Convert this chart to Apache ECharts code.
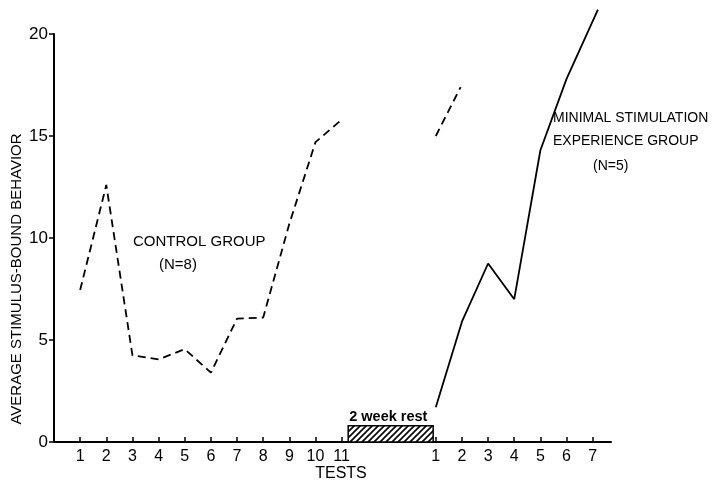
<!DOCTYPE html>
<html>
<head>
<meta charset="utf-8">
<script src="https://cdn.jsdelivr.net/npm/echarts@6/dist/echarts.min.js"></script>
<style>html,body{margin:0;padding:0;background:#fff;}#c{width:712px;height:483px;}</style>
</head>
<body>
<div id="c"></div>
<script>
// Phase 1 (before rest): tests 1..11
const controlTests = [1,2,3,4,5,6,7,8,9,10,11];
const controlValues = [7.45, 12.6, 4.25, 4.05, 4.55, 3.4, 6.05, 6.1, 10.7, 14.7, 15.8];
// Phase 2 (after 2-week rest): tests 1..7
const phase2Tests = [1,2,3,4,5,6,7];
const controlAfterTests = [1, 1.95];
const controlAfterValues = [15.0, 17.4];
const minimalTests = [1,2,3,4,5,6,7.2];
const minimalValues = [1.7, 5.9, 8.75, 7.0, 14.3, 17.8, 21.2];
const phase2Offset = 13.6;           // axis position of phase-2 test n = n + offset
const rest = {start: 11.25, end: 14.5, height: 0.8, label: '2 week rest'};

const tickPositions = controlTests.concat(phase2Tests.map(t => t + phase2Offset));
const tickLabels = controlTests.map(String).concat(phase2Tests.map(String));

const FONT = 'Liberation Sans';

// hatch pattern
const pc = document.createElement('canvas');
pc.width = 6; pc.height = 6;
const pctx = pc.getContext('2d');
pctx.fillStyle = '#fff'; pctx.fillRect(0,0,6,6);
pctx.strokeStyle = '#000'; pctx.lineWidth = 1.6;
pctx.beginPath();
pctx.moveTo(-1,7); pctx.lineTo(7,-1);
pctx.moveTo(-1,1); pctx.lineTo(1,-1);
pctx.moveTo(5,7); pctx.lineTo(7,5);
pctx.stroke();

const chart = echarts.init(document.getElementById('c'), null, {renderer: 'canvas'});
const zip = (xs, ys, off) => xs.map((x, i) => [x + (off || 0), ys[i]]);

chart.setOption({
  animation: false,
  backgroundColor: '#fff',
  grid: {left: 54, right: 101, top: 34, bottom: 41, containLabel: false},
  xAxis: {
    type: 'value', min: 0, max: 21.3,
    splitLine: {show: false},
    axisLine: {lineStyle: {color: '#000', width: 2}},
    axisTick: {show: true, inside: true, length: 5, lineStyle: {color: '#000', width: 1.5}, customValues: tickPositions},
    axisLabel: {
      color: '#000', fontFamily: FONT, fontSize: 16, margin: 7,
      customValues: tickPositions,
      formatter: v => { const i = tickPositions.findIndex(p => Math.abs(p - v) < 1e-6); return i >= 0 ? tickLabels[i] : ''; }
    }
  },
  yAxis: {
    type: 'value', min: 0, max: 20, interval: 5,
    splitLine: {show: false},
    axisLine: {show: true, lineStyle: {color: '#000', width: 2}},
    axisTick: {show: true, length: 5, lineStyle: {color: '#000', width: 1.5}},
    axisLabel: {color: '#000', fontFamily: FONT, fontSize: 17, margin: 6}
  },
  graphic: [
    {type: 'text', x: 341, y: 474, style: {text: 'TESTS', font: '16px ' + FONT, fill: '#000', textAlign: 'center', textVerticalAlign: 'middle'}},
    {type: 'text', x: 17, y: 279, rotation: Math.PI / 2, style: {text: 'AVERAGE STIMULUS-BOUND BEHAVIOR', font: '15px ' + FONT, fill: '#000', textAlign: 'center', textVerticalAlign: 'middle'}},
    {type: 'text', x: 133, y: 242, style: {text: 'CONTROL GROUP', font: '15px ' + FONT, fill: '#000', textVerticalAlign: 'middle'}},
    {type: 'text', x: 159, y: 265, style: {text: '(N=8)', font: '15px ' + FONT, fill: '#000', textVerticalAlign: 'middle'}},
    {type: 'text', x: 553, y: 118, style: {text: 'MINIMAL STIMULATION', font: '14px ' + FONT, fill: '#000', textVerticalAlign: 'middle'}},
    {type: 'text', x: 553, y: 141, style: {text: 'EXPERIENCE GROUP', font: '14px ' + FONT, fill: '#000', textVerticalAlign: 'middle'}},
    {type: 'text', x: 593, y: 166, style: {text: '(N=5)', font: '14px ' + FONT, fill: '#000', textVerticalAlign: 'middle'}}
  ],
  series: [
    {
      type: 'custom', name: 'rest',
      data: [[rest.start, rest.end, rest.height]],
      renderItem: (params, api) => {
        const p0 = api.coord([api.value(0), api.value(2)]);
        const p1 = api.coord([api.value(1), 0]);
        return {
          type: 'group',
          children: [
            {type: 'rect', shape: {x: p0[0], y: p0[1], width: p1[0] - p0[0], height: p1[1] - p0[1]},
             style: {fill: {image: pc, repeat: 'repeat'}, stroke: '#000', lineWidth: 1.5}},
            {type: 'text', style: {text: rest.label, x: p0[0] + 1, y: p0[1] - 1, font: 'bold 14.5px ' + FONT, fill: '#000', textVerticalAlign: 'bottom'}}
          ]
        };
      },
      silent: true
    },
    {
      type: 'line', name: 'Control', data: zip(controlTests, controlValues),
      symbol: 'none', clip: false,
      lineStyle: {color: '#000', width: 1.8, type: [8, 5]}
    },
    {
      type: 'line', name: 'Control after rest', data: zip(controlAfterTests, controlAfterValues, phase2Offset),
      symbol: 'none', clip: false,
      lineStyle: {color: '#000', width: 1.8, type: [8, 5]}
    },
    {
      type: 'line', name: 'Minimal stimulation', data: zip(minimalTests, minimalValues, phase2Offset),
      symbol: 'none', clip: false,
      lineStyle: {color: '#000', width: 1.8}
    }
  ]
});
</script>
</body>
</html>
